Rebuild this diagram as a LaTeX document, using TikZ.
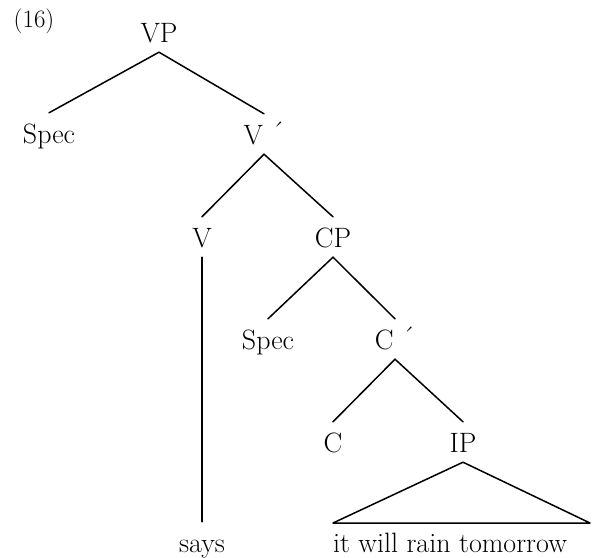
\documentclass[tikz,border=0pt]{standalone}
\usepackage{fontspec}
\newcommand{\barmark}{\raisebox{3pt}{´}}
\begin{document}
\begin{tikzpicture}[x=1pt,y=-1pt,
  every node/.style={font=\fontsize{28}{33}\selectfont},
  cat/.style={anchor=base, inner xsep=0pt, inner ysep=10pt,
              text height=20pt, text depth=0pt},
  branch/.style={line width=1.5pt, line cap=round, line join=round}]
  \useasboundingbox (0,0) rectangle (597,557);

  % example number
  \node[anchor=base, inner sep=0pt, font=\fontsize{25}{30}\selectfont] (num) at (34,27) {(16)};

  % categories, placed by baseline
  \node[cat] (vp)    at (159,42)  {VP};
  \node[cat] (spec1) at (49,143)  {Spec};
  \node[cat] (vbar)  at (264,144) {V \barmark};
  \node[cat] (v)     at (202,247) {V};
  \node[cat] (cp)    at (333,247) {CP};
  \node[cat] (spec2) at (268,349) {Spec};
  \node[cat] (cbar)  at (395,349) {C \barmark};
  \node[cat] (c)     at (333,452) {C};
  \node[cat] (ip)    at (463,452) {IP};

  % terminal strings
  \node[cat] (says)  at (202,552) {says};
  \node[cat] (str)   at (450,552) {it will rain tomorrow};

  % base corners of the IP triangle
  \coordinate (tl) at (333,523);
  \coordinate (tr) at (590,523);

  % branches
  \draw[branch] (vp.south)   -- (spec1.north);
  \draw[branch] (vp.south)   -- (vbar.north);
  \draw[branch] (vbar.south) -- (v.north);
  \draw[branch] (vbar.south) -- (cp.north);
  \draw[branch] (cp.south)   -- (spec2.north);
  \draw[branch] (cp.south)   -- (cbar.north);
  \draw[branch] (cbar.south) -- (c.north);
  \draw[branch] (cbar.south) -- (ip.north);
  \draw[branch] (v.south)    -- (says.north);
  \draw[branch] (ip.south) -- (tr) -- (tl) -- cycle;
\end{tikzpicture}
\end{document}
